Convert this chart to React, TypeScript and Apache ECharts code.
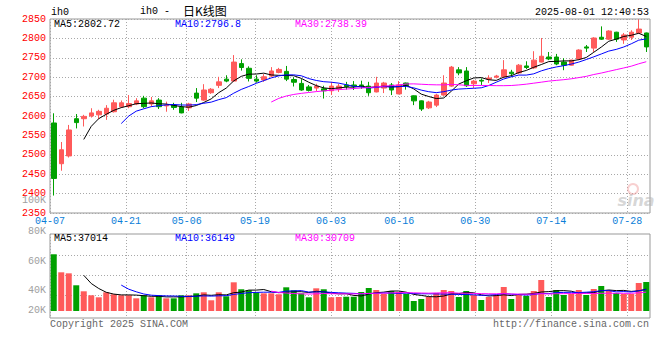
import React, { useEffect, useRef } from 'react';
import * as echarts from 'echarts';

// ---- data ----
const dates = [
  '04-07', '04-08', '04-09', '04-10', '04-11', '04-14', '04-15', '04-16', '04-17', '04-18',
  '04-21', '04-22', '04-23', '04-24', '04-25', '04-28', '04-29', '04-30',
  '05-06', '05-07', '05-08', '05-09', '05-12', '05-13', '05-14', '05-15', '05-16',
  '05-19', '05-20', '05-21', '05-22', '05-23', '05-26', '05-27', '05-28', '05-29', '05-30',
  '06-03', '06-04', '06-05', '06-06', '06-09', '06-10', '06-11', '06-12', '06-13',
  '06-16', '06-17', '06-18', '06-19', '06-20', '06-23', '06-24', '06-25', '06-26', '06-27',
  '06-30', '07-01', '07-02', '07-03', '07-04', '07-07', '07-08', '07-09', '07-10', '07-11',
  '07-14', '07-15', '07-16', '07-17', '07-18', '07-21', '07-22', '07-23', '07-24', '07-25',
  '07-28', '07-29', '07-30', '07-31',
];

const opens = [
  2582, 2477, 2497, 2593, 2593, 2600, 2603, 2605, 2611, 2624,
  2624, 2631, 2646, 2631, 2641, 2626, 2628, 2623, 2621, 2659,
  2641, 2660, 2679, 2695, 2690, 2735, 2723, 2695, 2693, 2703,
  2712, 2715, 2694, 2684, 2675, 2672, 2670, 2665, 2670, 2680,
  2680, 2680, 2677, 2662, 2672, 2680, 2657, 2685, 2652, 2639,
  2621, 2628, 2654, 2677, 2719, 2716, 2683, 2692, 2695, 2700,
  2701, 2713, 2711, 2729, 2724, 2739, 2752, 2752, 2739, 2731,
  2747, 2778, 2775, 2803, 2798, 2816, 2796, 2803, 2814, 2814,
];
const closes = [
  2439, 2513, 2564, 2583, 2599, 2608, 2612, 2620, 2634, 2634,
  2632, 2639, 2624, 2639, 2624, 2628, 2622, 2608, 2631, 2646,
  2667, 2669, 2688, 2690, 2739, 2725, 2697, 2690, 2701, 2716,
  2720, 2695, 2687, 2667, 2666, 2677, 2665, 2677, 2677, 2676,
  2677, 2678, 2660, 2685, 2685, 2667, 2680, 2678, 2639, 2618,
  2636, 2654, 2685, 2726, 2711, 2678, 2690, 2690, 2698, 2703,
  2719, 2709, 2731, 2725, 2744, 2754, 2747, 2734, 2731, 2744,
  2770, 2775, 2801, 2798, 2819, 2798, 2809, 2816, 2824, 2778,
];
const lows = [
  2395, 2459, 2493, 2568, 2573, 2596, 2592, 2590, 2609, 2621,
  2620, 2628, 2620, 2624, 2618, 2611, 2616, 2607, 2613, 2636,
  2639, 2657, 2672, 2687, 2688, 2717, 2689, 2686, 2688, 2701,
  2710, 2690, 2676, 2665, 2663, 2664, 2645, 2654, 2662, 2668,
  2667, 2670, 2652, 2661, 2659, 2654, 2656, 2668, 2628, 2613,
  2618, 2623, 2652, 2675, 2705, 2675, 2672, 2680, 2685, 2697,
  2698, 2701, 2708, 2721, 2721, 2738, 2744, 2731, 2718, 2730,
  2744, 2765, 2765, 2796, 2796, 2791, 2786, 2796, 2812, 2765,
];
const highs = [
  2607, 2533, 2577, 2605, 2603, 2620, 2616, 2628, 2642, 2640,
  2654, 2646, 2652, 2649, 2646, 2637, 2634, 2634, 2634, 2672,
  2682, 2672, 2701, 2705, 2757, 2746, 2728, 2705, 2708, 2726,
  2724, 2729, 2700, 2695, 2680, 2683, 2678, 2688, 2683, 2688,
  2690, 2691, 2688, 2701, 2688, 2685, 2690, 2686, 2653, 2640,
  2639, 2657, 2705, 2729, 2726, 2726, 2693, 2697, 2705, 2706,
  2744, 2719, 2734, 2741, 2767, 2801, 2765, 2760, 2749, 2745,
  2772, 2783, 2803, 2831, 2821, 2817, 2814, 2821, 2849, 2815,
];
const volumes = [
  95300, 65000, 63300, 43200, 33100, 26400, 23000, 31400, 28100, 26400,
  26400, 21300, 26400, 23000, 26400, 21300, 21300, 26400, 26400, 29700,
  31400, 18000, 31400, 24700, 48200, 36500, 34800, 31400, 29700, 29700,
  28100, 39800, 34800, 29700, 23000, 38100, 36500, 23000, 23500, 24000,
  24000, 31900, 38600, 35300, 28600, 33600, 31900, 28600, 16800, 20200,
  23500, 30200, 35300, 33600, 23500, 33600, 26900, 18500, 23500, 26900,
  40300, 20200, 28600, 25200, 33600, 52100, 23500, 35300, 26900, 28600,
  35300, 26900, 37000, 42000, 35300, 30200, 28600, 28600, 47000, 48700,
];

const xLabelDates = ['04-07', '04-21', '05-06', '05-19', '06-03', '06-16', '06-30', '07-14', '07-28'];
const volTickLabels = ['100K', '80K', '60K', '40K', '20K'];
const priceLegend = ['MA5:2802.72', 'MA10:2796.8', 'MA30:2738.39'];
const volLegend = ['MA5:37014', 'MA10:36149', 'MA30:30709'];
const maPeriods = [5, 10, 30];
const headerTexts = { code: 'ih0', titleCode: 'ih0 -', titleCn: '日K线图', time: '2025-08-01 12:40:53' };
const footerTexts = { left: 'Copyright 2025 SINA.COM', right: 'http://finance.sina.com.cn' };

// ---- styles / layout ----
const RED = '#ff5a5a';
const GREEN = '#00a000';
const MA_COLORS = ['#000000', '#0000ff', '#ff00ff'];
const MONO = "'Liberation Mono', 'DejaVu Sans Mono', monospace";
const CJK = "'Noto Sans CJK SC', sans-serif";
const DOT = { color: '#a8a8a8', width: 1, type: [1, 2] as any };
const VOL_MIN = -11760;
const VOL_MAX = 129360;
const volGridValues = [26880, 60480, 94080];
const volLabelY = [200, 231, 261, 290, 310];
const legendX = [54, 175, 295];

function movingAverage(arr: number[], n: number): (number | string)[] {
  return arr.map((_, i) => {
    if (i < n - 1) return '-';
    let s = 0;
    for (let k = i - n + 1; k <= i; k++) s += arr[k];
    return +(s / n).toFixed(2);
  });
}

export default function App() {
  const ref = useRef<HTMLDivElement>(null);

  useEffect(() => {
    if (!ref.current) return;
    const chart = echarts.init(ref.current, undefined, { renderer: 'svg' });
    const labelIdx = new Set(xLabelDates.map((d) => dates.indexOf(d)));
    const showIdx = (i: number) => labelIdx.has(i);

    const candleData = opens.map((o, i) => [o, closes[i], lows[i], highs[i]]);
    const volData = volumes.map((v, i) => ({
      value: v,
      itemStyle: { color: closes[i] >= opens[i] ? RED : GREEN },
    }));

    const txt = (text: string, x: number, y: number, fill: string, align = 'left', extra: any = {}) => ({
      type: 'text',
      x,
      y,
      z: 100,
      silent: true,
      style: {
        text,
        fill,
        fontSize: 10,
        fontFamily: MONO,
        align,
        verticalAlign: 'middle',
        ...extra,
      },
    });

    const graphics: any[] = [
      txt(headerTexts.code, 51, 12, '#000'),
      txt(headerTexts.titleCode, 140, 11, '#000'),
      txt(headerTexts.titleCn, 183, 10, '#000', 'left', { fontSize: 12, fontFamily: CJK }),
      txt(headerTexts.time, 649, 12, '#000', 'right'),
      ...priceLegend.map((t, i) => txt(t, legendX[i], 24, MA_COLORS[i])),
      ...volLegend.map((t, i) => txt(t, legendX[i], 238.5, MA_COLORS[i])),
      ...volTickLabels.map((t, i) => txt(t, 46, volLabelY[i], '#a0a0a0', 'right')),
      txt(footerTexts.left, 50, 324, '#666'),
      txt(footerTexts.right, 649, 324, '#666', 'right'),
      txt('sina', 636, 200, 'rgba(180,180,180,0.55)', 'center', {
        fontSize: 16,
        fontWeight: 'bold',
        fontStyle: 'italic',
        fontFamily: "'DejaVu Sans', sans-serif",
      }),
      {
        type: 'circle',
        z: 99,
        silent: true,
        shape: { cx: 633, cy: 189, r: 5 },
        style: { fill: 'none', stroke: 'rgba(240,150,150,0.45)', lineWidth: 2 },
      },
    ];

    const option: any = {
      animation: false,
      backgroundColor: '#ffffff',
      grid: [
        { left: 50, top: 19, width: 600, height: 194, show: true, borderColor: '#999', borderWidth: 1 },
        { left: 50, top: 234, width: 600, height: 84, show: true, borderColor: '#999', borderWidth: 1 },
      ],
      xAxis: [
        { type: 'category', gridIndex: 0, data: dates, boundaryGap: true, show: false },
        {
          type: 'category',
          gridIndex: 0,
          position: 'bottom',
          data: dates,
          boundaryGap: false,
          axisLine: { show: false },
          axisTick: { show: false },
          axisLabel: {
            interval: (i: number) => showIdx(i),
            color: '#0a7ed8',
            fontFamily: MONO,
            fontSize: 10,
            margin: 3,
          },
          splitLine: { show: true, interval: (i: number) => showIdx(i), lineStyle: DOT },
        },
        { type: 'category', gridIndex: 1, data: dates, boundaryGap: true, show: false },
        {
          type: 'category',
          gridIndex: 1,
          position: 'bottom',
          data: dates,
          boundaryGap: false,
          axisLine: { show: false },
          axisTick: { show: false },
          axisLabel: { show: false },
          splitLine: { show: true, interval: (i: number) => showIdx(i), lineStyle: DOT },
        },
      ],
      yAxis: [
        {
          type: 'value',
          gridIndex: 0,
          min: 2350,
          max: 2850,
          interval: 50,
          axisLine: { show: false },
          axisTick: { show: false },
          axisLabel: {
            color: '#ff0000',
            fontFamily: MONO,
            fontSize: 10,
            margin: 4,
            padding: [0, 0, 4, 0],
            formatter: (v: number) => String(v),
          },
          splitLine: { show: true, lineStyle: DOT },
        },
        {
          type: 'value',
          gridIndex: 1,
          min: VOL_MIN,
          max: VOL_MAX,
          axisLine: { show: false },
          axisTick: { show: false },
          axisLabel: { show: false },
          splitLine: { show: false },
        },
      ],
      series: [
        {
          type: 'candlestick',
          xAxisIndex: 0,
          yAxisIndex: 0,
          data: candleData,
          barWidth: 5,
          itemStyle: {
            color: RED,
            color0: GREEN,
            borderColor: RED,
            borderColor0: GREEN,
            borderWidth: 1,
          },
        },
        ...maPeriods.map((n, k) => ({
          type: 'line',
          xAxisIndex: 0,
          yAxisIndex: 0,
          data: movingAverage(closes, n),
          showSymbol: false,
          lineStyle: { width: 1, color: MA_COLORS[k] },
          z: 3,
        })),
        {
          type: 'bar',
          xAxisIndex: 2,
          yAxisIndex: 1,
          data: volData,
          barWidth: 6,
          z: 2,
          markLine: {
            silent: true,
            symbol: 'none',
            label: { show: false },
            lineStyle: DOT,
            z: 1,
            data: volGridValues.map((v) => ({ yAxis: v })),
          },
        },
        ...maPeriods.map((n, k) => ({
          type: 'line',
          xAxisIndex: 2,
          yAxisIndex: 1,
          data: movingAverage(volumes, n),
          showSymbol: false,
          lineStyle: { width: 1, color: MA_COLORS[k] },
          z: 3,
        })),
      ],
      graphic: graphics,
    };

    chart.setOption(option);
    return () => chart.dispose();
  }, []);

  return (
    <div
      ref={ref}
      style={{ position: 'fixed', left: 0, top: 0, width: 660, height: 360, background: '#fff' }}
    />
  );
}
